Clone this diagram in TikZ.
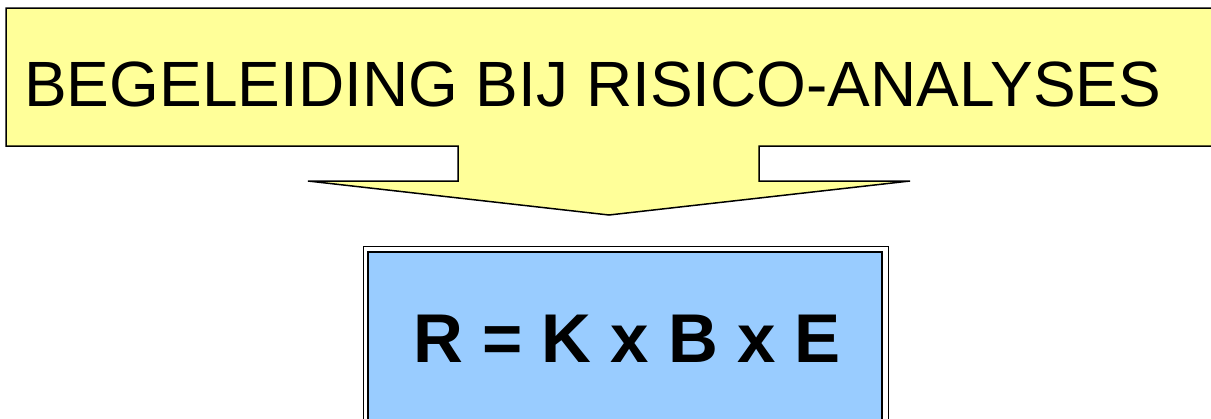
\documentclass[tikz,border=0pt]{standalone}
\usepackage{fontspec}
\setmainfont{Liberation Sans}
\definecolor{calloutyellow}{HTML}{FFFF99}
\definecolor{formulablue}{HTML}{99CCFF}
\begin{document}
\begin{tikzpicture}[x=1pt,y=-1pt,
		titletext/.style={inner sep=0pt,anchor=base west,font=\fontsize{64}{64}\selectfont},
		formulatext/.style={inner sep=0pt,anchor=base west,font=\fontsize{69}{69}\selectfont\bfseries}]
			\useasboundingbox (0,0) rectangle (1211,418);
			\clip (0,0) rectangle (1211,418);
			\fill[white] (0,0) rectangle (1211,418);
			\draw[fill=calloutyellow,line width=1.5pt,line join=miter]
			(6,8)--(1212,8)--(1212,146)--(759,146)--(759,181)--(910,181)
			--(609,215)--(308,181)--(458,181)--(458,146)--(6,146)--cycle
			;
			\node[titletext] (title) at (24,106) {BEGELEIDING BIJ RISICO-ANALYSES};
			\draw[fill=white,line width=1pt] (363,246) rectangle (888,430);
			\draw[fill=formulablue,line width=1.8pt] (368,252) rectangle (882,430);
			\node[formulatext] (formula) at (413,362) {R = K x B x E};
		\end{tikzpicture}
\end{document}
